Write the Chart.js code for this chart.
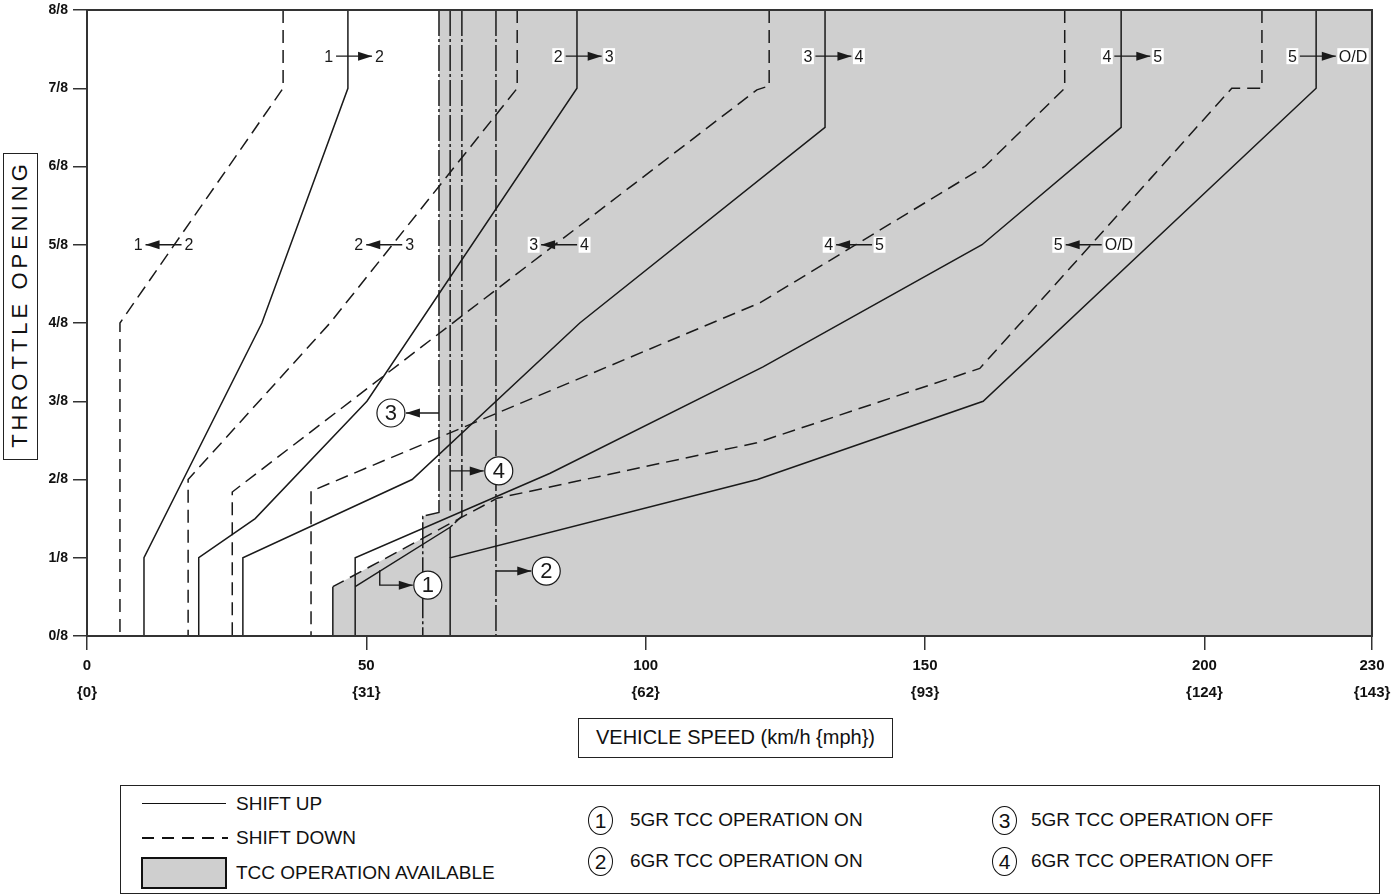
<!DOCTYPE html>
<html><head><meta charset="utf-8">
<script src="https://cdn.jsdelivr.net/npm/chart.js@4.4.1/dist/chart.umd.min.js"></script>
<style>
html,body{margin:0;padding:0;background:#fff;}
#wrap{position:relative;width:1392px;height:896px;overflow:hidden;font-family:'Liberation Sans',Arial,Helvetica,sans-serif;color:#111;}
#c{position:absolute;left:0;top:0;}
.box{position:absolute;border:1.5px solid #222;background:#fff;box-sizing:border-box;}
.t{position:absolute;white-space:nowrap;font-size:19px;line-height:24px;height:24px;}
.circ{position:absolute;width:25px;height:29px;border:1.3px solid #111;border-radius:50%;box-sizing:border-box;text-align:center;font-size:21px;line-height:27px;}
</style></head>
<body>
<div id="wrap">
<canvas id="c" width="1392" height="896"></canvas>
<div class="box" style="left:3px;top:153px;width:35px;height:307px;">
  <div style="position:absolute;left:0;top:0;width:32px;height:304px;display:flex;align-items:center;justify-content:center;">
    <div style="transform:rotate(-90deg);white-space:nowrap;font-size:22px;letter-spacing:4px;padding-left:4px;">THROTTLE OPENING</div>
  </div>
</div>
<div class="box" style="left:578px;top:718px;width:315px;height:40px;text-align:center;font-size:20px;line-height:37px;">VEHICLE SPEED (km/h {mph})</div>
<div class="box" style="left:120px;top:785px;width:1260px;height:109px;"></div>
<div style="position:absolute;left:142px;top:803px;width:84px;border-top:1.5px solid #111;"></div>
<div class="t" style="left:236px;top:792px;">SHIFT UP</div>
<div style="position:absolute;left:142px;top:837px;width:86px;height:1.5px;background:repeating-linear-gradient(to right,#111 0 12px,transparent 12px 20px);"></div>
<div class="t" style="left:236px;top:826px;">SHIFT DOWN</div>
<div style="position:absolute;left:141px;top:857px;width:86px;height:32px;background:#cfcfcf;border:2px solid #111;box-sizing:border-box;"></div>
<div class="t" style="left:236px;top:861px;">TCC OPERATION AVAILABLE</div>
<div class="circ" style="left:588px;top:806px;">1</div>
<div class="t" style="left:630px;top:808px;">5GR TCC OPERATION ON</div>
<div class="circ" style="left:588px;top:847px;">2</div>
<div class="t" style="left:630px;top:849px;">6GR TCC OPERATION ON</div>
<div class="circ" style="left:992px;top:806px;">3</div>
<div class="t" style="left:1031px;top:808px;">5GR TCC OPERATION OFF</div>
<div class="circ" style="left:992px;top:847px;">4</div>
<div class="t" style="left:1031px;top:849px;">6GR TCC OPERATION OFF</div>
</div>
<script>
// ---------------- data (km/h , throttle in eighths) ----------------
const xTicks = [0, 50, 100, 150, 200, 230];
const xTickMph = ['{0}', '{31}', '{62}', '{93}', '{124}', '{143}'];
const yTicks = [0, 1, 2, 3, 4, 5, 6, 7, 8];
const yTickLabels = ['0/8', '1/8', '2/8', '3/8', '4/8', '5/8', '6/8', '7/8', '8/8'];

// shift up (solid)
const up12 = [[46.7, 8], [46.7, 7], [31.3, 4], [10.2, 1], [10.2, 0]];
const up23 = [[87.7, 8], [87.7, 7], [50.1, 3], [30.1, 1.5], [20, 1], [20, 0]];
const up34 = [[132.1, 8], [132.1, 6.5], [88.2, 4], [58.2, 2], [27.9, 1], [27.9, 0]];
const up45 = [[185.1, 8], [185.1, 6.5], [160.2, 5], [121.0, 3.44], [82.9, 2.08], [48, 1], [48, 0]];
const up5od = [[220, 8], [220, 7], [160.4, 3], [120, 2], [65, 1], [65, 0]];
// shift down (dashed)
const dn12 = [[35.1, 8], [35.1, 7], [5.9, 4], [5.9, 0]];
const dn23 = [[77, 8], [77, 7], [43.5, 4], [18.1, 2], [18.1, 0]];
const dn34 = [[122.1, 8], [122.1, 7.03], [119.9, 6.98], [26, 1.84], [26, 0]];
const dn45 = [[175, 8], [175, 7], [160.7, 6], [120.5, 4.26], [40.1, 1.85], [40.1, 0]];
const dn5od = [[210.3, 8], [210.3, 7], [204.9, 7], [159.8, 3.42], [119.9, 2.47], [73.4, 1.76], [44, 0.63], [44, 0]];
// TCC lines
const tcc5on = [[67.1, 8], [67.1, 1.53], [65, 1.39]];
const tcc5onEdge = [[48, 0.63], [65, 1.39], [65, 1]];
const tcc6on = [[73.2, 8], [73.2, 0]];
const tcc5off = [[63, 8], [63, 1.58], [60.1, 1.53], [60.1, 0]];
const tcc6off = [[65, 8], [65, 1.6]];
// TCC operation available area outline
const tccArea = [[44, 0], [44, 0.63], [60.1, 1.25], [60.1, 1.53], [63, 1.58], [63, 8], [230, 8], [230, 0]];

// text annotations
const shiftLabels = [
  {x: 47.8, y: 7.41, l: '1', r: '2', dir: 1},
  {x: 88.9, y: 7.41, l: '2', r: '3', dir: 1},
  {x: 133.6, y: 7.41, l: '3', r: '4', dir: 1},
  {x: 187.1, y: 7.41, l: '4', r: '5', dir: 1},
  {x: 220.3, y: 7.41, l: '5', r: 'O/D', dir: 1},
  {x: 13.7, y: 5, l: '1', r: '2', dir: -1},
  {x: 53.2, y: 5, l: '2', r: '3', dir: -1},
  {x: 84.5, y: 5, l: '3', r: '4', dir: -1},
  {x: 137.3, y: 5, l: '4', r: '5', dir: -1},
  {x: 178.4, y: 5, l: '5', r: 'O/D', dir: -1}
];
const circleMarks = [
  {n: '3', x: 54.4, y: 2.85, from: 63},
  {n: '4', x: 73.7, y: 2.11, from: 65},
  {n: '2', x: 82.2, y: 0.83, from: 73.2},
  {n: '1', x: 61.0, y: 0.65, bendFrom: [52.4, 0.84]}
];

// ---------------- chart ----------------
const INK = '#1a1a1a';
const pts = a => a.map(([x, y]) => ({x, y}));
function line(data, dash, extra) {
  return Object.assign({data: pts(data), borderColor: INK, borderWidth: 1.5, borderDash: dash,
    pointRadius: 0, fill: false, tension: 0, order: 1}, extra || {});
}
const DASH = [13, 7];
const DASHDOT = [26, 3, 3, 3];

const datasets = [
  {data: pts(tccArea), borderWidth: 0, borderColor: 'rgba(0,0,0,0)', backgroundColor: '#cfcfcf',
   fill: 'origin', pointRadius: 0, tension: 0, order: 10},
  line(up12, []), line(up23, []), line(up34, []), line(up45, []), line(up5od, []),
  line(dn12, DASH), line(dn23, DASH), line(dn34, DASH), line(dn45, DASH),
  line(dn5od, DASH, {segment: {borderDash: c => c.p1DataIndex === dn5od.length - 1 ? [] : undefined}}),
  line(tcc5on, DASHDOT), line(tcc5onEdge, []), line(tcc6on, DASHDOT), line(tcc5off, DASHDOT), line(tcc6off, DASHDOT)
];

function arrowHead(ctx, x, y, dir) {
  ctx.beginPath();
  ctx.moveTo(x, y);
  ctx.lineTo(x - dir * 14, y - 4.5);
  ctx.lineTo(x - dir * 14, y + 4.5);
  ctx.closePath();
  ctx.fill();
}

const annot = {
  id: 'annot',
  afterDatasetsDraw(chart) {
    const ctx = chart.ctx, xs = chart.scales.x, ys = chart.scales.y, a = chart.chartArea;
    ctx.save();
    ctx.fillStyle = INK; ctx.strokeStyle = INK; ctx.lineWidth = 1.4;
    ctx.textBaseline = 'middle';
    ctx.font = '16px "Liberation Sans", Arial, sans-serif';
    const half = 18;
    shiftLabels.forEach(s => {
      const cx = xs.getPixelForValue(s.x), cy = ys.getPixelForValue(s.y);
      const lw = ctx.measureText(s.l).width, rw = ctx.measureText(s.r).width;
      const lx = cx - half - 3 - lw, rx = cx + half + 3;
      ctx.fillStyle = '#fff';
      ctx.fillRect(lx - 1.5, cy - 8, lw + 3, 16);
      ctx.fillRect(rx - 1.5, cy - 8, rw + 3, 16);
      ctx.fillStyle = INK;
      ctx.textAlign = 'left';
      ctx.fillText(s.l, lx, cy + 1);
      ctx.fillText(s.r, rx, cy + 1);
      ctx.beginPath(); ctx.moveTo(cx - half, cy); ctx.lineTo(cx + half, cy); ctx.stroke();
      arrowHead(ctx, s.dir > 0 ? cx + half : cx - half, cy, s.dir);
    });
    const R = 14;
    circleMarks.forEach(m => {
      const cx = xs.getPixelForValue(m.x), cy = ys.getPixelForValue(m.y);
      if (m.from !== undefined) {
        const fx = xs.getPixelForValue(m.from);
        const dir = fx > cx ? -1 : 1;
        const tip = cx - dir * (R + 1);
        ctx.beginPath(); ctx.moveTo(fx, cy); ctx.lineTo(tip, cy); ctx.stroke();
        arrowHead(ctx, tip, cy, dir);
      } else {
        const bx = xs.getPixelForValue(m.bendFrom[0]), by = ys.getPixelForValue(m.bendFrom[1]);
        const tip = cx - R - 1;
        ctx.beginPath(); ctx.moveTo(bx, by); ctx.lineTo(bx, cy); ctx.lineTo(tip, cy); ctx.stroke();
        arrowHead(ctx, tip, cy, 1);
      }
      ctx.beginPath(); ctx.arc(cx, cy, R, 0, Math.PI * 2);
      ctx.fillStyle = '#fff'; ctx.fill();
      ctx.lineWidth = 1.2; ctx.stroke(); ctx.lineWidth = 1.4;
      ctx.fillStyle = INK; ctx.textAlign = 'center';
      ctx.font = '22px "Liberation Sans", Arial, sans-serif';
      ctx.fillText(m.n, cx, cy + 1);
      ctx.font = '16px "Liberation Sans", Arial, sans-serif';
    });
    // frame
    ctx.strokeStyle = '#333'; ctx.lineWidth = 2;
    ctx.strokeRect(a.left, a.top, a.right - a.left, a.bottom - a.top);
    ctx.restore();
  }
};

new Chart(document.getElementById('c'), {
  type: 'line',
  data: {datasets},
  plugins: [annot],
  options: {
    responsive: false, animation: false, devicePixelRatio: 1,
    layout: {padding: {left: 0, right: 20, top: 10, bottom: 0}},
    plugins: {legend: {display: false}, tooltip: {enabled: false}},
    scales: {
      x: {
        type: 'linear', min: 0, max: 230,
        afterBuildTicks: s => { s.ticks = xTicks.map(v => ({value: v})); },
        afterFit: s => { s.height = 260; s.paddingLeft = 0; s.paddingRight = 0; },
        ticks: {
          autoSkip: false, maxRotation: 0, padding: 2, color: '#111',
          font: {family: '"Liberation Sans", Arial, sans-serif', size: 15, weight: 'bold', lineHeight: 1.8},
          callback: (v, i) => [String(v), xTickMph[i]]
        },
        grid: {drawOnChartArea: false, drawTicks: true, tickLength: 14, color: '#333', lineWidth: 1.5},
        border: {display: true, color: '#333', width: 2}
      },
      y: {
        type: 'linear', min: 0, max: 8,
        afterBuildTicks: s => { s.ticks = yTicks.map(v => ({value: v})); },
        afterFit: s => { s.width = 87; s.paddingTop = 0; s.paddingBottom = 0; },
        ticks: {
          padding: 5, color: '#111',
          font: {family: '"Liberation Sans", Arial, sans-serif', size: 14, weight: 'bold'},
          callback: (v, i) => yTickLabels[i]
        },
        grid: {drawOnChartArea: false, drawTicks: true, tickLength: 14, color: '#333', lineWidth: 1.5},
        border: {display: true, color: '#333', width: 2}
      }
    }
  }
});
</script>
</body></html>
